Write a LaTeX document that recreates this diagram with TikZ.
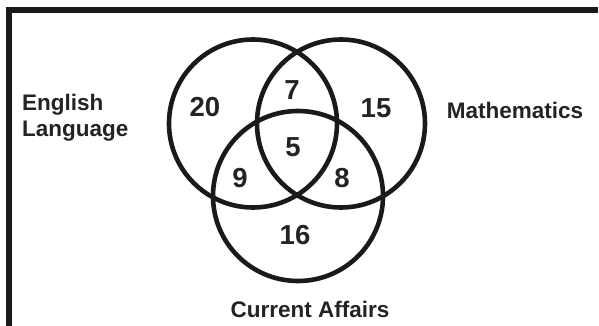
\documentclass[tikz,border=0pt]{standalone}
\usepackage{fontspec}
\setmainfont{Liberation Sans}
\usetikzlibrary{positioning,calc}
\definecolor{ink}{HTML}{1A1A1A}
\definecolor{txt}{HTML}{232323}
\tikzset{
  setc/.style={
    circle, draw=ink, line width=4.6pt, fill=none, inner sep=0pt,
    minimum size=#1},
  frm/.style={draw=ink, line width=6pt},
  cnt/.style={font=\fontsize{27.5}{30}\selectfont\bfseries, text=txt, inner sep=0pt},
  lbl/.style={font=\fontsize{22.5}{26}\selectfont\bfseries, text=txt, inner sep=0pt,
    align=left},
}

\begin{document}
\begin{tikzpicture}[x=1pt, y=-1pt]
\useasboundingbox (0,0) rectangle (599,326);

% =====================================================================
\coordinate (fb) at (9,326);
\coordinate (fc) at (9,10);
\coordinate (fr) at (598,10);
\draw[frm] (fb) -- (fc) -- (fr);

% the three sets
\node[setc=168] (eng) at (253,123.5) {};
\node[setc=168] (mat) at (341,123.5) {};
\node[setc=170] (cur) at (298,196) {};

% =====================================================================
\foreach \nm/\x/\y/\v in {a/205/107.5/20, ab/292/90/7, b/376/108/15,
    abc/293/147/5, ac/240/178/9, bc/342/178/8, c/295/235/16}
  \node[cnt] (n\nm) at (\x,\y) {\v};

\node[lbl, anchor=west] (leng) at (22,118) {English\\Language};
\node[lbl] (lmat) at (515,110) {Mathematics};
\node[lbl] (lcur) at (310,309) {Current Affairs};

\end{tikzpicture}
\end{document}
